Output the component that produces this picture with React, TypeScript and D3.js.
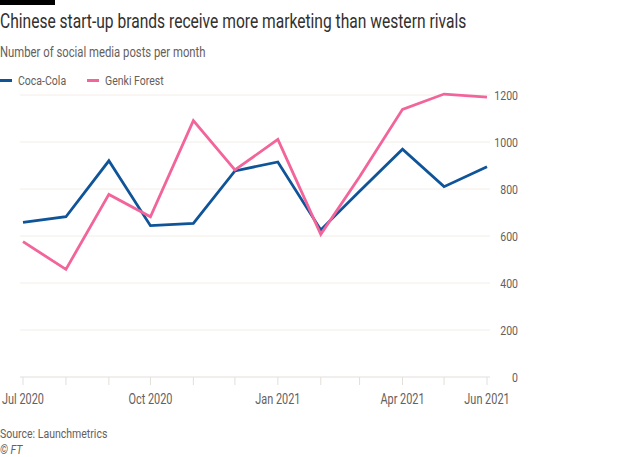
import React from "react";
import * as d3 from "d3";

const months = ["2020-07","2020-08","2020-09","2020-10","2020-11","2020-12","2021-01","2021-02","2021-03","2021-04","2021-05","2021-06"];
const cocaCola = [658, 682, 920, 644, 654, 877, 915, 626, 790, 969, 810, 895];
const genkiForest = [576, 458, 777, 682, 1091, 881, 1011, 607, 852, 1139, 1204, 1191];
const yTicks = [0, 200, 400, 600, 800, 1000, 1200];
const xLabels = ["Jul 2020", "Oct 2020", "Jan 2021", "Apr 2021", "Jun 2021"];
const xLabelMonths = ["2020-07", "2020-10", "2021-01", "2021-04", "2021-06"];

const parse = d3.timeParse("%Y-%m");
const dates = months.map((m) => parse(m) as Date);

const FONT = "Roboto, 'Noto Sans', sans-serif";
const SX = 0.78;

function T(props: { x: number; y: number; size: number; fill: string; anchor?: string; italic?: boolean; children: React.ReactNode }) {
  return (
    <text
      transform={`translate(${props.x},${props.y}) scale(${SX},1)`}
      textAnchor={props.anchor || "start"}
      fontFamily={FONT}
      fontSize={props.size}
      fontStyle={props.italic ? "italic" : "normal"}
      fill={props.fill}
    >
      {props.children}
    </text>
  );
}

export default function App() {
  const W = 640, H = 457;
  const x = d3.scaleTime().domain([dates[0], dates[dates.length - 1]]).range([23, 487]);
  const y = d3.scaleLinear().domain([0, 1200]).range([377, 95]);
  const line = d3.line<number>().x((_, i) => x(dates[i])).y((v) => y(v));
  const series = [
    { name: "Coca-Cola", values: cocaCola, color: "#0f5499", off: 0 },
    { name: "Genki Forest", values: genkiForest, color: "#f2649a", off: 87 },
  ];
  const grey = "#66605c";
  return (
    <svg width={W} height={H} style={{ position: "absolute", left: 0, top: 0, background: "#fff" }}>
      <rect x={0} y={0} width={W} height={H} fill="#fff" />
      <rect x={0} y={0} width={55} height={5} fill="#000" />
      <T x={0} y={28} size={20} fill="#33302e">Chinese start-up brands receive more marketing than western rivals</T>
      <T x={0} y={57} size={14.5} fill={grey}>Number of social media posts per month</T>
      {series.map((s) => (
        <g key={s.name} transform={`translate(${s.off},0)`}>
          <line x1={0} x2={12} y1={80.5} y2={80.5} stroke={s.color} strokeWidth={3} />
          <T x={18} y={85} size={13.5} fill={grey}>{s.name}</T>
        </g>
      ))}
      {yTicks.map((t) => (
        <g key={t}>
          <line x1={20} x2={490} y1={y(t)} y2={y(t)} stroke={t === 0 ? "#e3dfda" : "#f2ede8"} strokeWidth={1} />
          <T x={518} y={y(t) + 5} anchor="end" size={13.5} fill={grey}>{t}</T>
        </g>
      ))}
      {dates.map((d, i) => (
        <line key={i} x1={x(d)} x2={x(d)} y1={377} y2={385} stroke="#e3dfda" strokeWidth={1} />
      ))}
      {xLabels.map((l, i) => (
        <T key={l} x={x(parse(xLabelMonths[i]) as Date)} y={404} anchor="middle" size={14} fill={grey}>{l}</T>
      ))}
      {series.map((s) => (
        <path key={s.name} d={line(s.values) || ""} fill="none" stroke={s.color} strokeWidth={2.8} strokeLinejoin="miter" />
      ))}
      <T x={0} y={438} size={13.5} fill={grey}>Source: Launchmetrics</T>
      <T x={0} y={454} size={13.5} italic fill={grey}>© FT</T>
    </svg>
  );
}
